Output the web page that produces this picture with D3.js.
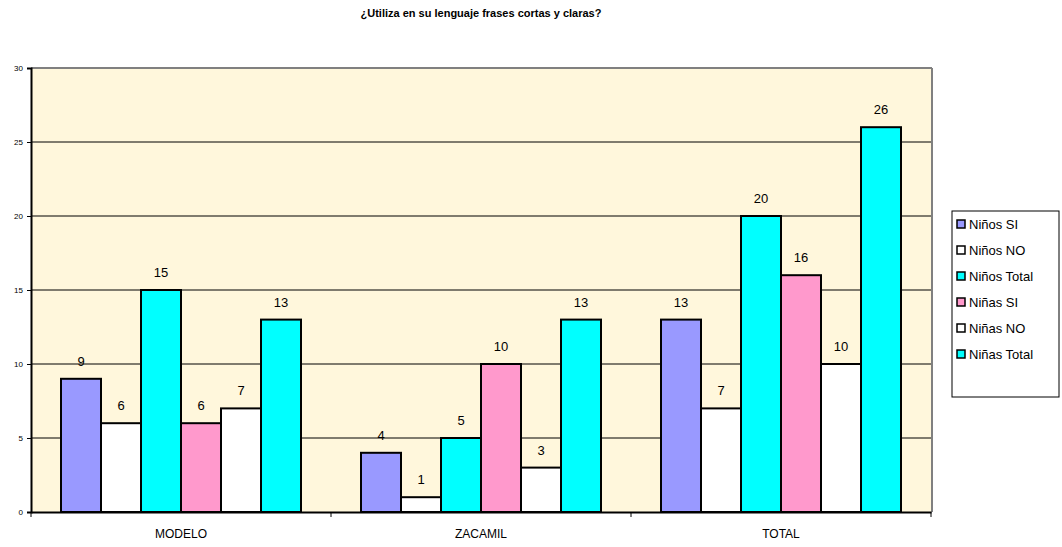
<!DOCTYPE html>
<html>
<head>
<meta charset="utf-8">
<script src="https://cdn.jsdelivr.net/npm/d3@7"></script>
<style>
  html, body { margin: 0; padding: 0; background: #ffffff; }
  svg { display: block; font-family: Arial, "Liberation Sans", sans-serif; }
</style>
</head>
<body>
<svg id="chart" width="1062" height="547"></svg>
<script>
// Survey groups and series
const categories = ["MODELO", "ZACAMIL", "TOTAL"];
const seriesNames = ["Niños SI", "Niños NO", "Niños Total", "Niñas SI", "Niñas NO", "Niñas Total"];
const seriesColors = ["#9999ff", "#ffffff", "#00ffff", "#ff99cc", "#ffffff", "#00ffff"];
const ninosSi = [9, 4, 13];
const ninosNo = [6, 1, 7];
const ninosTotal = [15, 5, 20];
const ninasSi = [6, 10, 16];
const ninasNo = [7, 3, 10];
const ninasTotal = [13, 13, 26];
const yTicks = [0, 5, 10, 15, 20, 25, 30];
const titleText = "¿Utiliza en su lenguaje frases cortas y claras?";

const seriesValues = [ninosSi, ninosNo, ninosTotal, ninasSi, ninasNo, ninasTotal];

const svg = d3.select("#chart");
const plot = { left: 31, top: 68, right: 931, bottom: 512 };

const x0 = d3.scaleBand().domain(categories).range([plot.left, plot.right]).paddingInner(0).paddingOuter(0);
const x1 = d3.scaleBand().domain(d3.range(seriesNames.length))
  .range([0, x0.bandwidth()]).paddingInner(0).paddingOuter(0.75);
const y = d3.scaleLinear().domain([0, 30]).range([plot.bottom, plot.top]);

// Title
svg.append("text")
  .attr("x", 481).attr("y", 17)
  .attr("text-anchor", "middle")
  .attr("font-size", 11).attr("font-weight", "bold")
  .text(titleText);

// Plot background
svg.append("rect")
  .attr("x", plot.left).attr("y", plot.top)
  .attr("width", plot.right - plot.left).attr("height", plot.bottom - plot.top)
  .attr("fill", "#fff7dc");

// Gridlines
svg.append("g").selectAll("line")
  .data(yTicks.filter(t => t > 0 && t < 30))
  .join("line")
  .attr("x1", plot.left).attr("x2", plot.right)
  .attr("y1", d => y(d)).attr("y2", d => y(d))
  .attr("stroke", "#000").attr("stroke-width", 1);

// Frame: gray top/right, dark left/bottom
svg.append("line").attr("x1", plot.left).attr("x2", plot.right + 1)
  .attr("y1", plot.top).attr("y2", plot.top).attr("stroke", "#808080").attr("stroke-width", 2);
svg.append("line").attr("x1", plot.right + 1).attr("x2", plot.right + 1)
  .attr("y1", plot.top).attr("y2", plot.bottom).attr("stroke", "#808080").attr("stroke-width", 2);

// Bars
const groups = svg.append("g").selectAll("g")
  .data(categories)
  .join("g")
  .attr("transform", d => `translate(${x0(d)},0)`);

groups.selectAll("rect")
  .data((c, ci) => seriesValues.map((vals, si) => ({ si, v: vals[ci] })))
  .join("rect")
  .attr("x", d => x1(d.si))
  .attr("y", d => y(d.v))
  .attr("width", x1.bandwidth())
  .attr("height", d => y(0) - y(d.v))
  .attr("fill", d => seriesColors[d.si])
  .attr("stroke", "#000").attr("stroke-width", 2);

groups.selectAll("text")
  .data((c, ci) => seriesValues.map((vals, si) => ({ si, v: vals[ci] })))
  .join("text")
  .attr("x", d => x1(d.si) + x1.bandwidth() / 2)
  .attr("y", d => y(d.v) - 13)
  .attr("text-anchor", "middle")
  .attr("font-size", 13)
  .text(d => d.v);

// Y axis
const yAxis = svg.append("g")
  .attr("transform", `translate(${plot.left},0)`)
  .call(d3.axisLeft(y).tickValues(yTicks).tickSize(4).tickPadding(4).tickFormat(d3.format("d")));
yAxis.select(".domain").attr("stroke", "#000").attr("stroke-width", 2);
yAxis.selectAll("text").attr("font-size", 8).attr("font-family", "Arial, 'Liberation Sans', sans-serif");

// X axis
const xAxis = svg.append("g")
  .attr("transform", `translate(0,${plot.bottom})`)
  .call(d3.axisBottom(x0).tickSize(0).tickPadding(17));
xAxis.select(".domain").attr("stroke", "#000").attr("stroke-width", 2);
xAxis.selectAll("text").attr("font-size", 12).attr("font-family", "Arial, 'Liberation Sans', sans-serif");
xAxis.selectAll("line.sep")
  .data(categories.map(c => x0(c)).concat([plot.right]))
  .join("line")
  .attr("class", "sep")
  .attr("x1", d => d).attr("x2", d => d)
  .attr("y1", 0).attr("y2", 5)
  .attr("stroke", "#000");

// Legend
const legend = svg.append("g").attr("transform", "translate(952,211)");
legend.append("rect")
  .attr("x", 0).attr("y", 0).attr("width", 107).attr("height", 186)
  .attr("fill", "#fff").attr("stroke", "#000").attr("stroke-width", 1);
const items = legend.selectAll("g.item")
  .data(seriesNames)
  .join("g")
  .attr("class", "item")
  .attr("transform", (d, i) => `translate(5,${14 + i * 26})`);
items.append("rect")
  .attr("x", 0).attr("y", -5).attr("width", 8).attr("height", 8)
  .attr("fill", (d, i) => seriesColors[i])
  .attr("stroke", "#000").attr("stroke-width", 1.5);
items.append("text")
  .attr("x", 12).attr("y", 4)
  .attr("font-size", 13)
  .text(d => d);
</script>
</body>
</html>
